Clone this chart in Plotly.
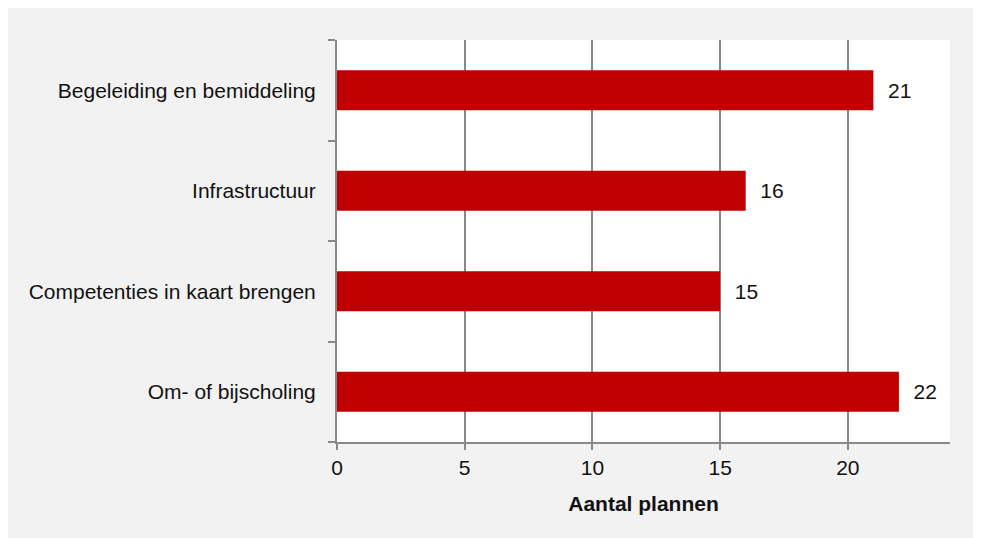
import plotly.graph_objects as go

# categorieën van boven naar beneden
categories = ["Begeleiding en bemiddeling", "Infrastructuur",
              "Competenties in kaart brengen", "Om- of bijscholing"]
values = [21, 16, 15, 22]
x_ticks = [0, 5, 10, 15, 20]

GRAY = "#898989"
FONT = "Liberation Sans, Arial, sans-serif"

fig = go.Figure()
fig.add_trace(go.Bar(
    y=categories, x=values, orientation="h",
    marker=dict(color="#C00000", line=dict(width=0)),
    width=0.4,
    text=values, texttemplate="  %{x}", textposition="outside",
    textfont=dict(size=21, color="#111111", family=FONT),
    cliponaxis=False,
))

fig.update_layout(
    width=990, height=540,
    margin=dict(l=329, r=48, t=32, b=106),
    paper_bgcolor="#f2f2f2",
    plot_bgcolor="white",
    font=dict(family=FONT, size=21, color="#111111"),
    showlegend=False,
    xaxis=dict(
        range=[0, 24], tickvals=x_ticks, showgrid=True, gridcolor=GRAY,
        gridwidth=2, showline=True, linecolor=GRAY, linewidth=2,
        ticks="outside", ticklen=6, tickcolor=GRAY, tickwidth=2, zeroline=False,
        title=dict(text="<b>Aantal plannen</b>", font=dict(size=21), standoff=18),
    ),
    yaxis=dict(
        categoryorder="array", categoryarray=categories[::-1],
        showline=True, linecolor=GRAY, linewidth=2,
        ticks="outside", ticklen=7, tickcolor=GRAY, tickwidth=2,
        tickson="boundaries", ticklabelstandoff=15, showgrid=False,
        zeroline=False,
    ),
)

fig.write_html("out.html")
